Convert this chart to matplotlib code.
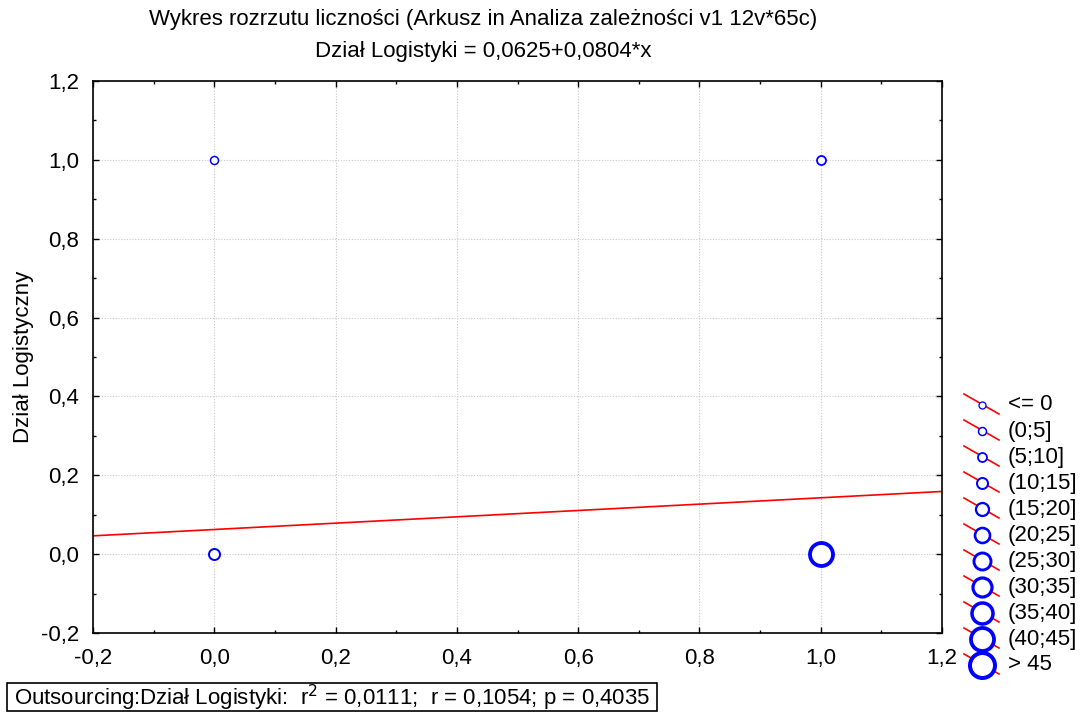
import numpy as np
import matplotlib.pyplot as plt
from matplotlib.patches import Rectangle
from matplotlib.ticker import MultipleLocator, FuncFormatter

plt.rcParams['font.family'] = ['Liberation Sans', 'DejaVu Sans']

# frequency scatter: (x, y, count)
x_vals = [0.0, 0.0, 1.0, 1.0]
y_vals = [1.0, 0.0, 1.0, 0.0]
counts = [1, 15, 7, 42]

intercept = 0.0625
slope = 0.0804

class_labels = ['<= 0', '(0;5]', '(5;10]', '(10;15]', '(15;20]', '(20;25]',
                '(25;30]', '(30;35]', '(35;40]', '(40;45]', '> 45']
class_edges = [0, 5, 10, 15, 20, 25, 30, 35, 40, 45]

# marker diameter (px) and edge width (px) for each class
diam_px = [7, 8, 9, 11, 13, 15, 17, 19, 21, 23, 25]
edge_px = [1.3, 1.5, 1.8, 2.0, 2.3, 2.6, 2.9, 3.2, 3.5, 3.8, 4.0]

PX = 0.72  # points per pixel at dpi 100
FS = 16


def class_of(n):
    for i, e in enumerate(class_edges):
        if n <= e:
            return i
    return len(class_edges)


def comma(v, pos):
    return f'{v:.1f}'.replace('.', ',')


fig = plt.figure(figsize=(10.84, 7.13), dpi=100)
W, H = 1084, 713
ax = fig.add_axes([93 / W, 1 - 633 / H, (942 - 93) / W, (633 - 81) / H])

ax.set_xlim(-0.2, 1.2)
ax.set_ylim(-0.2, 1.2)
ax.xaxis.set_major_locator(MultipleLocator(0.2))
ax.yaxis.set_major_locator(MultipleLocator(0.2))
ax.xaxis.set_minor_locator(MultipleLocator(0.1))
ax.yaxis.set_minor_locator(MultipleLocator(0.1))
ax.xaxis.set_major_formatter(FuncFormatter(comma))
ax.yaxis.set_major_formatter(FuncFormatter(comma))
ax.tick_params(which='both', direction='in', top=True, right=True,
               labelsize=FS, width=1)
ax.tick_params(which='major', length=4)
ax.tick_params(axis='x', which='major', pad=11)
ax.tick_params(axis='y', which='major', pad=10)
ax.tick_params(which='minor', length=2.5)
ax.grid(True, which='major', color='#c8c8c8', linestyle=(0, (1, 1.5)), linewidth=0.8)
for sp in ax.spines.values():
    sp.set_linewidth(1.2)

xs = np.array([-0.2, 1.2])
ax.plot(xs, intercept + slope * xs, color='red', linewidth=1.2, zorder=2)

for x, y, n in zip(x_vals, y_vals, counts):
    c = class_of(n)
    ax.plot(x, y, 'o', markersize=diam_px[c] * PX, markerfacecolor='white',
            markeredgecolor='blue', markeredgewidth=edge_px[c] * PX, zorder=3,
            clip_on=False)

ax.set_ylabel('Dział Logistyczny', fontsize=FS, labelpad=5)

fig.text(483 / W, 1 - 20 / H, 'Wykres rozrzutu liczności (Arkusz in Analiza zależności v1 12v*65c)',
         ha='center', va='center', fontsize=FS)
fig.text(483 / W, 1 - 52 / H, 'Dział Logistyki = 0,0625+0,0804*x',
         ha='center', va='center', fontsize=FS)

# overlay in figure pixels for legend and stats box
lax = fig.add_axes([0, 0, 1, 1], facecolor='none')
lax.set_xlim(0, W)
lax.set_ylim(H, 0)
lax.axis('off')
for i, lab in enumerate(class_labels):
    yc = 405 + 26 * i
    lax.plot([964, 999], [yc - 11, yc + 9], color='red', linewidth=1.2)
    lax.plot(982, yc, 'o', markersize=diam_px[i] * PX, markerfacecolor='white',
             markeredgecolor='blue', markeredgewidth=edge_px[i] * PX)
    lax.text(1008, yc, lab, ha='left', va='center', fontsize=FS)

lax.add_patch(Rectangle((7, 683), 650, 28, facecolor='white',
                        edgecolor='black', linewidth=1.2))
lax.text(14, 698, 'Outsourcing:Dział Logistyki:  r$^2$ = 0,0111;  r = 0,1054; p = 0,4035',
         ha='left', va='center', fontsize=FS)

fig.savefig('out.png', dpi=100)
